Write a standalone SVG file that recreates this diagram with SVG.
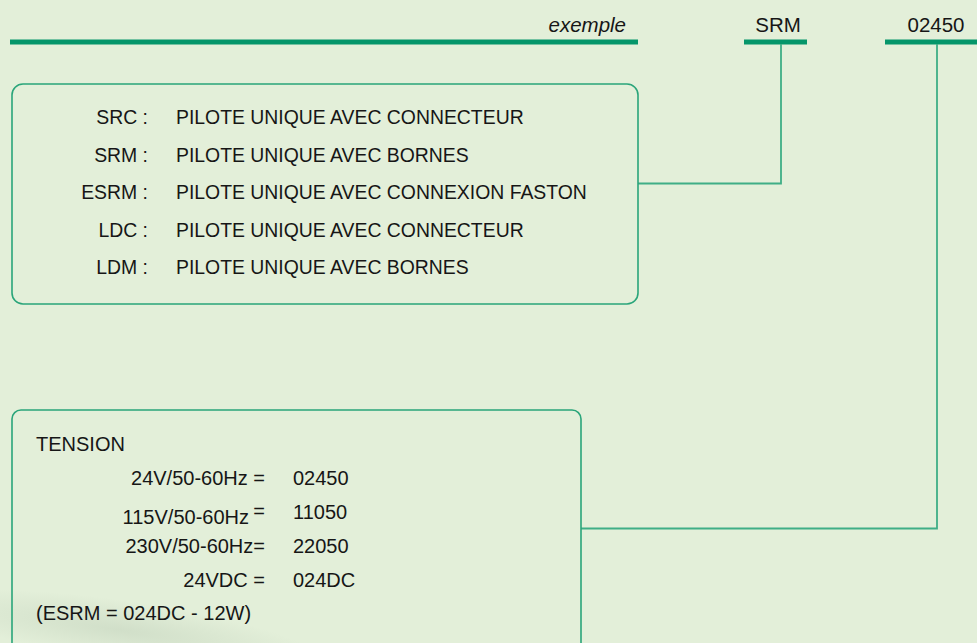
<svg xmlns="http://www.w3.org/2000/svg" width="977" height="643" viewBox="0 0 977 643">
<defs>
<style>
text{font-family:"Liberation Sans",Arial,sans-serif;fill:#161616}
.t1{font-size:19.4px}
.t2{font-size:20px}
.top{font-size:20.5px}
.box{fill:none;stroke:#2aa57a;stroke-width:1.6}
.bar{fill:#05966a}
.conn{fill:none;stroke:#3fae86;stroke-width:1.8}
</style>
<radialGradient id="sw" cx="0.5" cy="0.5" r="0.5">
<stop offset="0" stop-color="#c9d8c2" stop-opacity="0.7"/>
<stop offset="1" stop-color="#c9d8c2" stop-opacity="0"/>
</radialGradient>
</defs>
<rect width="977" height="643" fill="#e3efd9"/>
<ellipse cx="120" cy="630" rx="200" ry="30" fill="url(#sw)" transform="rotate(8 120 630)"/>
<g id="header">
<rect class="bar" x="10" y="39.5" width="628" height="5"/>
<rect class="bar" x="744" y="39.5" width="63" height="5"/>
<rect class="bar" x="885" y="39.5" width="92" height="5"/>
<text class="top" x="626" y="32" text-anchor="end" font-style="italic">exemple</text>
<text class="top" x="778" y="32" text-anchor="middle">SRM</text>
<text class="top" x="936" y="32" text-anchor="middle">02450</text>
</g>
<g id="connectors">
<polyline class="conn" points="638,183.5 781,183.5 781,44"/>
<polyline class="conn" points="581,528.5 937,528.5 937,44"/>
</g>
<g id="node-type">
<rect class="box" x="12" y="84" width="626" height="220" rx="11"/>
<g class="t1">
<text x="148" y="124" text-anchor="end">SRC :</text>
<text x="176" y="124">PILOTE UNIQUE AVEC CONNECTEUR</text>
<text x="148" y="162" text-anchor="end">SRM :</text>
<text x="176" y="162">PILOTE UNIQUE AVEC BORNES</text>
<text x="148" y="199" text-anchor="end">ESRM :</text>
<text x="176" y="199">PILOTE UNIQUE AVEC CONNEXION FASTON</text>
<text x="148" y="237" text-anchor="end">LDC :</text>
<text x="176" y="237">PILOTE UNIQUE AVEC CONNECTEUR</text>
<text x="148" y="274" text-anchor="end">LDM :</text>
<text x="176" y="274">PILOTE UNIQUE AVEC BORNES</text>
</g>
</g>
<g id="node-tension">
<rect class="box" x="12" y="410" width="569" height="250" rx="9"/>
<g class="t2">
<text x="36" y="451">TENSION</text>
<text x="265" y="485" text-anchor="end">24V/50-60Hz =</text>
<text x="293" y="485">02450</text>
<text x="249" y="524" text-anchor="end">115V/50-60Hz</text>
<text x="265" y="518" text-anchor="end">=</text>
<text x="293" y="519">11050</text>
<text x="265" y="553" text-anchor="end">230V/50-60Hz=</text>
<text x="293" y="553">22050</text>
<text x="265" y="587" text-anchor="end">24VDC =</text>
<text x="293" y="587">024DC</text>
<text x="36" y="620">(ESRM = 024DC - 12W)</text>
</g>
</g>
</svg>
